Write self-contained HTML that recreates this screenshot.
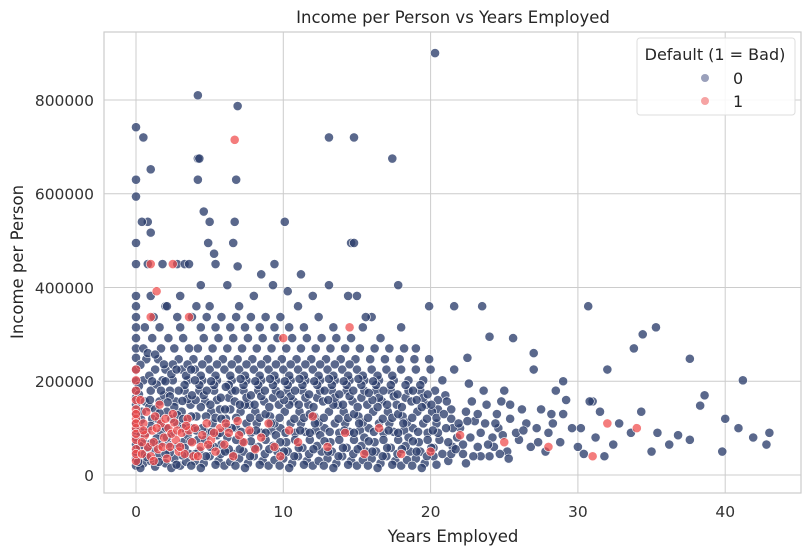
<!DOCTYPE html>
<html><head><meta charset="utf-8"><style>
html,body{margin:0;padding:0;background:#fff;}
svg{display:block;font-family:"DejaVu Sans","Liberation Sans",sans-serif;}
</style></head><body>
<svg id="chart" width="812" height="556" viewBox="0 0 812 556">
<g id="grid"></g>
<g id="points0"></g>
<g id="points1"></g>
<rect x="104" y="32" width="697" height="461" fill="none" stroke="#cccccc" stroke-width="1.2"/>
<g id="ticks"></g>
<text x="453" y="23" text-anchor="middle" font-size="16.5" fill="#262626">Income per Person vs Years Employed</text>
<text x="453" y="542" text-anchor="middle" font-size="16.5" fill="#262626">Years Employed</text>
<text transform="translate(23,262) rotate(-90)" text-anchor="middle" font-size="16.5" fill="#262626">Income per Person</text>
<g>
<rect x="637" y="38" width="158" height="77" rx="3" fill="#fff" fill-opacity="0.85" stroke="#dddddd"/>
<text x="715" y="60" text-anchor="middle" font-size="16" fill="#262626">Default (1 = Bad)</text>
<circle cx="705" cy="78" r="4" fill="#9aa0bb"/>
<text x="733" y="84" font-size="16" fill="#262626">0</text>
<circle cx="705" cy="101" r="4" fill="#f6a3a3"/>
<text x="733" y="107" font-size="16" fill="#262626">1</text>
</g>
</svg>
<script>
const xTicks=[0,10,20,30,40];
const yTicks=[0,200000,400000,600000,800000];
// class 0 points: [years employed, income per person in thousands]
const default0=[[20.3,900],[4.2,810],[6.9,787],[0,742],[0.5,720],[13.1,720],[14.8,720],[17.4,675],[4.2,675],[4.3,675],[6.8,630],[0,630],[4.2,630],[1,652],[0,594],[4.6,562],[5,540],[0.8,540],[0.4,540],[6.7,540],[10.1,540],[1,517],[0,495],[4.9,495],[14.6,495],[14.8,495],[6.6,495],[5.3,472],[0,450],[0.8,450],[1.8,450],[2.8,450],[3.3,450],[3.6,450],[5.4,450],[6.9,445],[9.4,450],[8.5,428],[11.2,428],[13.1,405],[17.8,405],[4.4,405],[6.2,405],[9.3,405],[10.3,392],[19.9,360],[21.6,360],[23.5,360],[30.7,360],[35.3,315],[34.4,300],[37.6,248],[41.2,202],[43,90],[42.8,65],[41.9,80],[40.9,100],[40,120],[39.8,50],[38.3,148],[38.6,170],[37.6,75],[36.8,85],[36.2,65],[35.4,90],[35,50],[34.3,135],[33.8,270],[33.6,90],[32.8,110],[32.4,65],[31.5,135],[31,157],[30.8,157],[30.4,45],[30,60],[29.6,100],[29,130],[28.5,180],[28,90],[27.5,140],[27,225],[26.5,110],[26,75],[25.6,292],[25,180],[24.5,130],[24.2,80],[23.8,150],[23,115],[22.6,195],[22,100],[21.5,60],[21,170],[20.5,140],[20,225],[32,225],[29,200],[27,260],[24,295],[22.5,250],[19,270],[18,315],[16,337],[15,382],[12,382],[11,360],[8,382],[7,360],[5,360],[3,382],[2,360],[1,382],[0,382],
[0,20],[0,35],[0,50],[0,65],[0,80],[0,95],[0,110],[0,130],[0,150],[0,165],[0,180],[0,200],[0,225],[0,250],[0,270],[0,292],[0,315],[0,337],[0,360],
[0.5,25],[0.6,45],[0.5,70],[0.7,90],[0.4,135],[0.6,157],[0.5,202],[0.7,247],[0.5,270],[0.6,315],
[1,30],[1.2,55],[1.1,120],[1,180],[1.3,225],[1.1,292],[1.2,337],
[1.5,40],[1.7,90],[1.6,157],[1.8,202],[1.5,247],[1.7,270],[1.6,315],
[2,25],[2.2,65],[2.1,135],[2.3,180],[2,225],[2.2,292],[2.1,360],
[2.6,35],[2.8,110],[2.7,157],[2.5,202],[2.9,247],[2.6,270],[2.8,337],
[3,20],[3.2,70],[3.1,135],[3.3,180],[3.1,225],[3.2,292],[3,315],
[3.6,45],[3.8,100],[3.7,150],[3.5,202],[3.9,247],[3.6,270],[3.8,337],
[4,30],[4.2,75],[4.1,125],[4.3,180],[4,225],[4.2,270],[4.4,315],[4.1,360],
[4.6,25],[4.8,90],[4.7,157],[4.5,202],[4.9,247],[4.6,292],[4.8,337],
[5,40],[5.2,110],[5.1,135],[5.3,180],[5,225],[5.2,270],[5.4,315],
[5.6,30],[5.8,65],[5.7,140],[5.5,202],[5.9,247],[5.6,292],[5.8,337],
[6,20],[6.2,80],[6.1,120],[6.3,165],[6,225],[6.2,270],[6.4,315],
[6.6,45],[6.8,100],[6.7,157],[6.5,202],[6.9,247],[6.6,292],[6.8,337],
[7,35],[7.2,70],[7.1,135],[7.3,180],[7,225],[7.2,270],[7.4,315],
[7.6,25],[7.8,90],[7.7,150],[7.5,202],[7.9,247],[7.6,292],[7.8,337],
[8,40],[8.2,110],[8.1,135],[8.3,180],[8,225],[8.2,270],[8.4,315],
[8.6,30],[8.8,75],[8.7,157],[8.5,202],[8.9,247],[8.6,292],[8.8,337],
[9,20],[9.2,95],[9.1,125],[9.3,165],[9,225],[9.2,270],[9.4,315],
[9.6,50],[9.8,100],[9.7,150],[9.5,202],[9.9,247],[9.6,292],[9.8,337],
[10,35],[10.2,70],[10.1,135],[10.3,180],[10,225],[10.2,270],[10.4,315],
[10.6,25],[10.8,90],[10.7,157],[10.5,202],[10.9,247],[10.6,292],
[11,40],[11.2,110],[11.1,135],[11.3,180],[11,225],[11.2,270],[11.4,315],
[11.6,30],[11.8,75],[11.7,150],[11.5,202],[11.9,247],[11.6,292],
[12,20],[12.2,95],[12.1,125],[12.3,165],[12,225],[12.2,270],[12.4,337],
[12.6,50],[12.8,100],[12.7,157],[12.5,202],[12.9,247],[12.6,292],
[13,35],[13.2,70],[13.1,135],[13.3,180],[13,225],[13.2,270],[13.4,315],
[13.6,25],[13.8,90],[13.7,150],[13.5,202],[13.9,247],[13.6,292],
[14,40],[14.2,110],[14.1,135],[14.3,180],[14,225],[14.2,270],[14.4,382],
[14.6,30],[14.8,75],[14.7,157],[14.5,202],[14.9,247],[14.6,292],
[15,20],[15.2,95],[15.1,125],[15.3,165],[15,225],[15.2,270],[15.4,315],
[15.6,50],[15.8,100],[15.7,150],[15.5,202],[15.9,247],[15.6,337],
[16,35],[16.2,70],[16.1,135],[16.3,180],[16,225],[16.2,270],
[16.6,25],[16.8,90],[16.7,157],[16.5,202],[16.9,247],[16.6,292],
[17,40],[17.2,110],[17.1,135],[17.3,180],[17,225],[17.2,270],
[17.6,30],[17.8,75],[17.7,150],[17.5,202],[17.9,247],
[18,20],[18.2,95],[18.1,125],[18.3,165],[18,225],[18.2,270],
[18.6,50],[18.8,100],[18.7,157],[18.5,202],[18.9,247],
[19,35],[19.2,70],[19.1,135],[19.3,180],[19,225],
[19.6,25],[19.8,90],[19.7,150],[19.5,202],[19.9,247],
[20.2,40],[20.4,110],[20.1,135],[20.3,180],[20.6,75],[20.8,202],
[21.2,30],[21.4,120],[21.1,157],[21.8,80],[21.6,225],
[22.2,45],[22.4,135],[22.8,157],[23.2,60],[23.4,90],[23.6,180],
[24,40],[24.6,100],[24.8,157],[25.2,50],[25.4,120],[25.8,90],[26.2,140],[26.8,60],[27.2,100],[27.8,50],[28.2,130],[28.8,70],[29.2,160],[30.2,100],[31.2,80],[31.8,40],
[0.3,15],[0.8,58],[0.3,100],[0.9,145],[0.2,190],[0.9,212],[0.3,235],[0.8,260],
[1.3,18],[1.4,78],[1.8,105],[1.3,140],[1.9,170],[1.4,193],[1.9,236],[1.3,257],
[2.4,15],[2.3,48],[2.5,88],[2.4,120],[2.6,145],[2.3,168],[2.4,215],[2.5,236],
[3.4,28],[3.3,58],[3.5,85],[3.4,112],[3.5,162],[3.3,192],[3.4,212],[3.5,236],
[4.4,15],[4.3,52],[4.5,100],[4.4,145],[4.6,170],[4.3,192],[4.4,212],[4.5,236],
[5.4,22],[5.3,60],[5.5,85],[5.4,122],[5.5,160],[5.3,192],[5.4,212],[5.5,236],
[6.4,28],[6.3,55],[6.5,100],[6.4,140],[6.5,180],[6.3,192],[6.4,212],[6.5,236],
[7.4,15],[7.3,50],[7.5,110],[7.4,150],[7.5,165],[7.3,192],[7.4,212],[7.5,236],
[8.4,22],[8.3,60],[8.5,90],[8.4,122],[8.5,168],[8.3,192],[8.4,212],[8.5,236],
[9.4,32],[9.3,62],[9.5,85],[9.4,110],[9.5,180],[9.3,192],[9.4,212],[9.5,236],
[10.4,15],[10.3,50],[10.5,110],[10.4,150],[10.5,168],[10.3,192],[10.4,212],[10.5,236],
[11.4,22],[11.3,58],[11.5,92],[11.4,122],[11.5,165],[11.3,192],[11.4,212],[11.5,236],
[12.4,30],[12.3,62],[12.5,85],[12.4,112],[12.5,180],[12.3,192],[12.4,212],[12.5,236],
[13.4,15],[13.3,50],[13.5,110],[13.4,150],[13.5,165],[13.3,192],[13.4,212],[13.5,236],
[14.4,22],[14.3,58],[14.5,92],[14.4,122],[14.5,168],[14.3,192],[14.4,212],[14.5,236],
[15.4,32],[15.3,62],[15.5,80],[15.4,112],[15.5,180],[15.3,192],[15.4,212],
[16.4,15],[16.3,50],[16.5,110],[16.4,145],[16.5,165],[16.3,192],[16.4,212],
[17.4,22],[17.3,58],[17.5,92],[17.4,122],[17.5,168],[17.3,192],[17.4,212],
[18.4,32],[18.3,62],[18.5,80],[18.4,112],[18.5,180],[18.3,192],
[19.4,15],[19.3,50],[19.5,110],[19.4,145],[19.5,165],[19.3,192],
[20.4,22],[20.2,58],[20.5,90],[20.4,122],[20.5,160],
[21.4,45],[21.2,70],[21.5,100],[21.4,140],[22.4,25],[22.2,65],[22.5,115],[23.4,40],[23.2,130],[24.3,60],[24.4,110],[25.3,35],[25.4,150],[26.3,95],[27.3,70],[28.3,110],
[0.15,28],[0.75,38],[0.25,62],[1.05,68],[0.3,85],[1.0,105],[0.35,118],[0.95,160],[0.2,172],[1.1,200],
[1.55,28],[2.0,45],[1.6,65],[2.1,80],[1.55,118],[2.05,100],[1.6,132],[2.15,155],[1.7,180],[2.0,200],
[2.75,22],[3.15,42],[2.8,60],[3.2,100],[2.8,128],[3.2,120],[2.9,180],[3.15,158],[2.75,225],
[3.75,20],[4.05,45],[3.7,72],[4.1,95],[3.75,125],[4.05,160],[3.8,170],[4.0,202],[3.75,225],
[4.75,40],[5.05,60],[4.7,75],[5.15,92],[4.75,125],[5.05,150],[4.8,180],[5.1,200],
[5.75,45],[6.05,50],[5.7,90],[6.15,102],[5.8,120],[6.05,140],[5.75,165],[6.1,188],
[6.75,20],[7.05,55],[6.8,75],[7.15,92],[6.8,122],[7.05,150],[6.75,180],[7.1,205],
[7.75,40],[8.05,58],[7.8,72],[8.15,95],[7.75,122],[8.05,150],[7.8,170],[8.1,200],
[8.75,45],[9.05,55],[8.8,90],[9.15,110],[8.8,130],[9.05,145],[8.75,180],[9.1,205],
[9.75,20],[10.05,50],[9.8,70],[10.15,90],[9.75,122],[10.05,160],[9.8,172],[10.1,200],
[10.75,40],[11.05,58],[10.8,75],[11.15,95],[10.75,120],[11.05,150],[10.8,180],[11.1,205],
[11.75,45],[12.05,55],[11.8,90],[12.15,110],[11.8,130],[12.05,145],[11.75,172],[12.1,200],
[12.75,20],[13.05,50],[12.8,72],[13.15,92],[12.75,122],[13.05,160],[12.8,180],[13.1,205],
[13.75,40],[14.05,58],[13.8,75],[14.15,95],[13.75,120],[14.05,150],[13.8,172],[14.1,200],
[14.75,45],[15.05,55],[14.8,90],[15.15,110],[14.8,130],[15.05,145],[14.75,180],[15.1,205],
[15.75,20],[16.05,50],[15.8,72],[16.15,92],[15.75,122],[16.05,160],[15.8,175],[16.1,200],
[16.75,40],[17.05,58],[16.8,75],[17.15,95],[16.75,120],[17.05,150],[16.8,180],
[17.75,45],[18.05,55],[17.8,90],[18.15,110],[17.8,130],[18.05,145],[17.75,172],
[18.75,20],[19.05,50],[18.8,72],[19.15,92],[18.75,122],[19.05,160],[18.8,180],
[19.75,40],[20.05,58],[19.8,75],[20.15,95],[19.75,120],[20.05,150],[19.8,172],
[20.8,45],[21.05,100],[20.9,130],[21.7,55],[21.9,110],[22.7,80],[22.9,40],[23.7,110],[23.9,65],[24.7,45],[24.9,85]];
// class 1 points
const default1=[[6.7,715],[1.4,392],[1,450],[2.5,450],[14.5,315],[10,292],[3.6,337],[1,337],
[0,30],[0,55],[0,75],[0,100],[0,120],[0,140],[0,160],[0,180],[0,202],[0,225],[0,45],[0,88],[0,110],[0,130],
[0.4,45],[0.6,85],[0.5,110],[0.7,135],[0.3,160],[0.8,60],[0.4,70],[0.5,95],
[1,40],[1.2,70],[1.1,95],[1.3,125],[1.5,55],[1.7,110],[1.6,150],[1.9,80],[1.2,30],[1.4,100],[1.8,60],
[2.1,35],[2.3,60],[2.2,100],[2.5,130],[2.7,75],[2.9,50],[2.6,112],[2.4,88],[2.0,120],[2.8,95],
[3.1,90],[3.3,45],[3.5,120],[3.8,70],[3.6,95],[3.0,60],[3.4,105],[3.9,40],
[4.2,40],[4.5,85],[4.8,110],[4.4,60],[5.1,75],[5.4,50],[5.7,100],[4.0,100],[4.9,65],[5.3,90],
[6,65],[6.3,90],[6.6,40],[6.9,115],[7.3,70],[7.7,95],[8.1,55],[8.5,80],[6.1,110],[7.0,85],
[9,110],[9.4,60],[9.8,40],[10.4,95],[11,70],[12,125],[13,60],[14.2,90],
[15.5,45],[16.5,100],[18,45],[20,50],[22,85],[25,70],[28,60],[31,40],[32,110],[34,100]];
const X=v=>136+v*14.73, Y=v=>475-v*0.4688;
const ns="http://www.w3.org/2000/svg";
const grid=document.getElementById('grid'), ticks=document.getElementById('ticks');
xTicks.forEach(t=>{
 const l=document.createElementNS(ns,'line');
 l.setAttribute('x1',X(t));l.setAttribute('x2',X(t));l.setAttribute('y1',32);l.setAttribute('y2',493);
 l.setAttribute('stroke','#cccccc');
 
 
 grid.appendChild(l);
 const tx=document.createElementNS(ns,'text');
 tx.setAttribute('x',X(t));tx.setAttribute('y',517);tx.setAttribute('text-anchor','middle');
 tx.setAttribute('font-size','15.5');tx.setAttribute('fill','#333');tx.textContent=t;
 
 
 ticks.appendChild(tx);
});
yTicks.forEach(t=>{
 const l=document.createElementNS(ns,'line');
 l.setAttribute('x1',104);l.setAttribute('x2',801);l.setAttribute('y1',Y(t/1000));l.setAttribute('y2',Y(t/1000));
 l.setAttribute('stroke','#cccccc');
 
 
 grid.appendChild(l);
 const tx=document.createElementNS(ns,'text');
 tx.setAttribute('x',94);tx.setAttribute('y',Y(t/1000)+6);tx.setAttribute('text-anchor','end');
 tx.setAttribute('font-size','15.5');tx.setAttribute('fill','#333');tx.textContent=t;
 
 
 ticks.appendChild(tx);
});
function draw(data,gid,fill,op,name){
 const g=document.getElementById(gid);
 data.forEach(d=>{
  const c=document.createElementNS(ns,'circle');
  c.setAttribute('cx',X(d[0]));c.setAttribute('cy',Y(d[1]));c.setAttribute('r',4.6);
  c.setAttribute('fill',fill);c.setAttribute('fill-opacity',op);
  c.setAttribute('stroke','#ffffff');c.setAttribute('stroke-width','0.6');
  
  
  g.appendChild(c);
 });
}
draw(default0,'points0','#2b3d6b','0.78','point-default-0');
draw(default1,'points1','#f04a4a','0.72','point-default-1');
</script>
</body></html>
